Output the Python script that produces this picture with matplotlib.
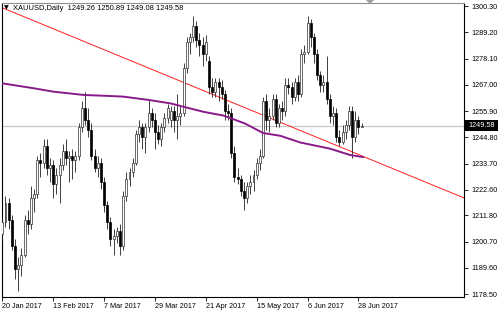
import matplotlib
matplotlib.use('Agg')
import matplotlib.pyplot as plt
from matplotlib.patches import Rectangle, Polygon

# ---------------- data (daily XAUUSD candles, bar index 0 = 20 Jan 2017) ----------------
opens = [1204, 1209, 1217, 1210, 1199, 1189, 1191, 1195, 1210, 1208,
         1219, 1221, 1235, 1234, 1241, 1232, 1233, 1225, 1229, 1233,
         1239, 1236, 1237, 1235, 1237, 1249, 1257, 1252, 1248, 1237,
         1232, 1234, 1226, 1216, 1209, 1202, 1203, 1205, 1199, 1220,
         1227, 1230, 1234, 1246, 1249, 1245, 1249, 1255, 1252, 1247,
         1244, 1249, 1253, 1252, 1256, 1252, 1254, 1255, 1274, 1285,
         1287, 1292, 1286, 1284, 1280, 1277, 1266, 1264, 1268, 1266,
         1263, 1256, 1255, 1238, 1228, 1227, 1222, 1219, 1224, 1226,
         1229, 1234, 1237, 1260, 1252, 1254, 1261, 1251, 1257, 1256,
         1267, 1266, 1262, 1268, 1263, 1280, 1281, 1293, 1287, 1280,
         1271, 1267, 1268, 1261, 1254, 1255, 1245, 1243, 1247, 1250,
         1256, 1245, 1252, 1249.26]
highs = [1211, 1220, 1219, 1212, 1202, 1194, 1198, 1212, 1214, 1224,
         1223, 1237, 1238, 1244, 1244, 1236, 1235, 1232, 1236, 1242,
         1244, 1239, 1240, 1239, 1251, 1260, 1264, 1257, 1251, 1240,
         1237, 1236, 1228, 1218, 1211, 1206, 1207, 1208, 1222, 1230,
         1232, 1236, 1248, 1252, 1251, 1251, 1261, 1257, 1255, 1250,
         1251, 1255, 1259, 1258, 1258, 1263, 1258, 1276, 1287, 1289,
         1296, 1294, 1289, 1287, 1288, 1279, 1270, 1270, 1270, 1269,
         1265, 1259, 1257, 1241, 1232, 1229, 1226, 1226, 1229, 1231,
         1236, 1240, 1262, 1263, 1257, 1263, 1263, 1259, 1260, 1270,
         1270, 1268, 1270, 1271, 1282, 1284, 1296, 1295, 1289, 1282,
         1273, 1271, 1279, 1263, 1258, 1257, 1248, 1250, 1252, 1258,
         1258, 1256, 1254, 1250.89]
lows = [1201, 1207, 1206, 1197, 1185, 1180, 1186, 1194, 1204, 1206,
        1213, 1219, 1228, 1232, 1229, 1226, 1219, 1221, 1217, 1231,
        1233, 1226, 1227, 1230, 1235, 1247, 1250, 1245, 1235, 1230,
        1228, 1223, 1213, 1206, 1199, 1195, 1200, 1195, 1197, 1218,
        1224, 1228, 1233, 1243, 1240, 1238, 1247, 1249, 1240, 1242,
        1241, 1247, 1251, 1249, 1247, 1244, 1250, 1254, 1272, 1280,
        1285, 1283, 1279, 1275, 1277, 1263, 1262, 1262, 1260, 1261,
        1252, 1252, 1236, 1226, 1225, 1220, 1214, 1217, 1221, 1222,
        1227, 1231, 1236, 1248, 1247, 1252, 1249, 1249, 1252, 1254,
        1263, 1259, 1260, 1260, 1262, 1276, 1280, 1283, 1276, 1269,
        1264, 1264, 1259, 1251, 1250, 1243, 1241, 1242, 1244, 1248,
        1236, 1243, 1246, 1249.08]
closes = [1209, 1217, 1210, 1199, 1189, 1191, 1195, 1210, 1208, 1219,
          1221, 1235, 1234, 1241, 1232, 1233, 1225, 1229, 1233, 1239,
          1236, 1237, 1235, 1237, 1249, 1257, 1252, 1248, 1237, 1232,
          1234, 1226, 1216, 1209, 1202, 1203, 1205, 1199, 1220, 1227,
          1230, 1234, 1246, 1249, 1245, 1249, 1255, 1252, 1247, 1244,
          1249, 1253, 1257, 1256, 1252, 1254, 1255, 1274, 1285, 1287,
          1292, 1286, 1284, 1280, 1285, 1266, 1264, 1268, 1266, 1263,
          1256, 1255, 1238, 1228, 1227, 1222, 1219, 1224, 1226, 1229,
          1234, 1237, 1260, 1252, 1254, 1261, 1251, 1257, 1256, 1267,
          1266, 1262, 1268, 1263, 1280, 1281, 1293, 1287, 1280, 1271,
          1267, 1268, 1261, 1254, 1255, 1245, 1243, 1247, 1250, 1256,
          1245, 1252, 1249, 1249.58]

# moving average (purple) read at bar positions
ma_idx = [0, 10, 16, 25.5, 33, 38, 46.5, 53, 57, 63.5, 69.5, 73, 76.5,
          82, 87.5, 93.7, 103, 109.4, 113.5]
ma_val = [1267.6, 1265.5, 1264.1, 1262.7, 1262.3, 1262.0, 1260.5, 1259.1,
          1257.7, 1255.5, 1254.0, 1252.3, 1250.5, 1246.6, 1245.4, 1242.6,
          1240.0, 1237.3, 1236.4]

# trend line (red) end points
trend_idx = [-0.63, 145.3]
trend_val = [1299.9, 1219.1]

bid_price = 1249.58
title_text = "XAUUSD,Daily  1249.26 1250.89 1249.08 1249.58"

ytick_vals = [1300.30, 1289.20, 1278.10, 1267.00, 1255.90, 1244.80,
              1233.70, 1222.60, 1211.80, 1200.70, 1189.60, 1178.50]
xtick_idx = [0, 16, 32, 48, 64, 80, 96, 112]
xtick_labels = ["20 Jan 2017", "13 Feb 2017", "7 Mar 2017", "29 Mar 2017",
                "21 Apr 2017", "15 May 2017", "6 Jun 2017", "28 Jun 2017"]

# ---------------- drawing ----------------
FONT = ['Liberation Sans', 'DejaVu Sans']
plt.rcParams['font.family'] = FONT

W, H = 500, 314
fig = plt.figure(figsize=(W / 100, H / 100), dpi=100)
fig.patch.set_facecolor('white')
left_px, right_px, top_px, bot_px = 2, 464, 2.7, 296.7
ax = fig.add_axes([left_px / W, 1 - bot_px / H, (right_px - left_px) / W,
                   (bot_px - top_px) / H])
ax.set_xlim(-0.1, 145.2)
ax.set_ylim(1177.4, 1301.7)

# bid line
ax.axhline(bid_price, color='#c8c8c8', lw=0.9, zorder=1)

# trend line
ax.plot(trend_idx, trend_val, color='#ff2020', lw=0.7, zorder=2, clip_on=True)

# candles
bw = 0.62
for i, (o, h, l, c) in enumerate(zip(opens, highs, lows, closes)):
    ax.plot([i, i], [l, h], color='#202020', lw=0.6, zorder=3,
            solid_capstyle='butt')
    lo, hi = min(o, c), max(o, c)
    hgt = max(hi - lo, 0.15)
    if c >= o:
        rect = Rectangle((i - bw / 2, lo), bw, hgt, facecolor='white',
                         edgecolor='#303030', lw=0.5, zorder=4)
    else:
        rect = Rectangle((i - bw / 2, lo), bw, hgt, facecolor='black',
                         edgecolor='black', lw=0.5, zorder=4)
    ax.add_patch(rect)

# moving average
ax.plot(ma_idx, ma_val, color='#8a1a8a', lw=1.4, zorder=5,
        solid_capstyle='round')

# axes styling
for s in ['left', 'bottom', 'right']:
    ax.spines[s].set_color('black')
    ax.spines[s].set_linewidth(0.8)
ax.spines['top'].set_color('#909090')
ax.spines['top'].set_linewidth(0.8)

ax.yaxis.tick_right()
ax.set_yticks(ytick_vals)
ax.set_yticklabels([f"{v:.2f}" for v in ytick_vals])
ax.tick_params(axis='y', which='both', direction='out', length=3, width=0.6,
               labelsize=5.2, pad=2, colors='black')
ax.set_xticks(xtick_idx)
ax.set_xticklabels(xtick_labels, ha='left')
ax.tick_params(axis='x', which='both', direction='out', length=3, width=0.6,
               labelsize=5.2, pad=1.5, colors='black')

# title
fig.text(3.5 / W, 1 - 8 / H, "\u25bc", fontsize=4.5, va='center', ha='left',
         family=['DejaVu Sans'])
fig.text(13 / W, 1 - 8 / H, title_text, fontsize=5.4, va='center', ha='left',
         family=FONT)

# bid price label box
ybid = ax.transData.transform((0, bid_price))[1]
fig.patches.append(Rectangle((465 / W, (ybid - 5.5) / H), 33 / W, 11 / H,
                             transform=fig.transFigure, facecolor='black',
                             edgecolor='black', lw=0))
fig.text(468 / W, ybid / H, f"{bid_price:.2f}", fontsize=5.2, color='white',
         va='center', ha='left', family=FONT)

# chart shift marker
fig.patches.append(Polygon([[366 / W, 1 - 0 / H], [374 / W, 1 - 0 / H],
                            [370 / W, 1 - 4 / H]], closed=True,
                           transform=fig.transFigure, facecolor='#a0a0a0',
                           edgecolor='none'))

fig.savefig('out.png', dpi=100, facecolor='white')
